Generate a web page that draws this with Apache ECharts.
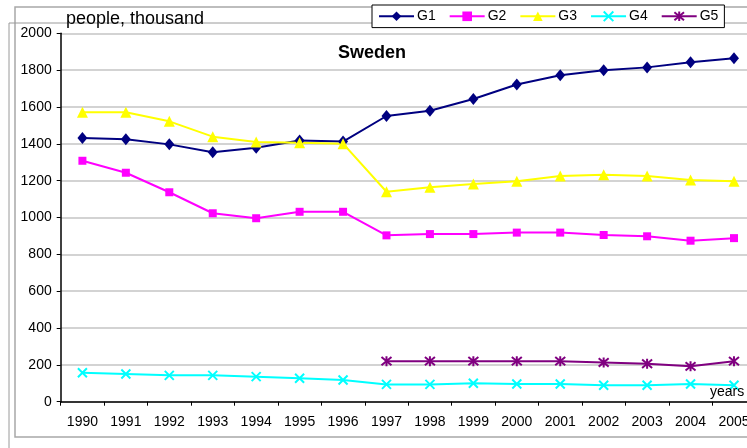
<!DOCTYPE html>
<html>
<head>
<meta charset="utf-8">
<script src="https://cdn.jsdelivr.net/npm/echarts@6/dist/echarts.min.js"></script>
<style>
html,body{margin:0;padding:0;background:#fff;overflow:hidden;}
#chartID{width:760px;height:448px;}
</style>
</head>
<body>
<div id="chartID"></div>
<script>
// Sweden, people thousand, groups G1..G5
var yearArray=["1990","1991","1992","1993","1994","1995","1996","1997","1998","1999","2000","2001","2002","2003","2004","2005"];
var g1Array=[1432,1425,1397,1354,1379,1418,1412,1551,1580,1643,1722,1772,1799,1815,1843,1864];
var g2Array=[1308,1243,1137,1023,996,1031,1031,903,910,910,918,918,905,898,874,888];
var g3Array=[1571,1571,1522,1439,1410,1406,1401,1140,1164,1182,1197,1225,1232,1225,1204,1197];
var g4Array=[157,150,143,143,136,127,118,94,94,100,96,96,89,89,96,89];
var g5Array=[null,null,null,null,null,null,null,220,220,220,220,220,213,206,192,220];
var seriesNameArray=["G1","G2","G3","G4","G5"];
var seriesColorArray=["#000080","#FF00FF","#FFFF00","#00FFFF","#800080"];

var fontName='"Liberation Sans", Arial, sans-serif';
var crossPath='path://M0,0L10,10M10,0L0,10';
var starPath='path://M0,0L10,10M10,0L0,10M5,-1L5,11';

function makeSeries(idx, data, symbol, size, strokeOnly){
	var s={
		name: seriesNameArray[idx],
		type: 'line',
		data: data,
		symbol: symbol,
		symbolSize: size,
		showAllSymbol: true,
		connectNulls: false,
		animation: false,
		lineStyle: { color: seriesColorArray[idx], width: 2 },
		itemStyle: { color: seriesColorArray[idx] }
	};
	if(strokeOnly){
		s.itemStyle={ color: 'none', borderColor: seriesColorArray[idx], borderWidth: 2 };
	}
	return s;
}

// chart div is a bit wider than the window: the plot runs off the right edge
var chart=echarts.init(document.getElementById('chartID'));
var option={
	animation: false,
	textStyle: { fontFamily: fontName },
	graphic: [
		{ type:'rect', shape:{x:15, y:7, width:800, height:430}, style:{fill:'none', stroke:'#a8a8a8', lineWidth:1.5}, z:0 },
		{ type:'rect', shape:{x:9, y:23, width:800, height:500}, style:{fill:'none', stroke:'#9a9a9a', lineWidth:1}, z:0 },
		{ type:'text', left:66, top:10, style:{text:'people, thousand', font:'18px '+fontName, fill:'#000'}, z:100 },
		{ type:'text', left:338, top:44, style:{text:'Sweden', font:'bold 18px '+fontName, fill:'#000'}, z:100 },
		{ type:'text', left:710, top:385, style:{text:'years', font:'14px '+fontName, fill:'#000'}, z:100 }
	],
	legend: {
		left: 372,
		top: 5,
		padding: [4,6,4,6],
		itemWidth: 35,
		itemHeight: 12,
		itemGap: 13,
		borderColor: '#000',
		borderWidth: 1,
		backgroundColor: '#fff',
		textStyle: { fontSize: 14, color: '#000', fontFamily: fontName, padding: [0,0,0,-2] },
		data: seriesNameArray
	},
	grid: { left: 60.7, top: 33.3, right: 4.3, bottom: 46.3, containLabel: false },
	xAxis: {
		type: 'category',
		data: yearArray,
		boundaryGap: true,
		axisLine: { lineStyle: { color: '#000', width: 1.5 } },
		axisTick: { show: true, interval: 0, length: 4, lineStyle: { color: '#000' } },
		axisLabel: { interval: 0, margin: 13, fontSize: 14, color: '#000', fontFamily: fontName }
	},
	yAxis: {
		type: 'value',
		min: 0,
		max: 2000,
		interval: 200,
		axisLine: { show: true, lineStyle: { color: '#000', width: 1.5 } },
		axisTick: { show: true, length: 4, lineStyle: { color: '#000' } },
		axisLabel: { margin: 9, fontSize: 14, color: '#000', fontFamily: fontName, formatter: function(v){ return String(v); } },
		splitLine: { show: true, lineStyle: { color: '#c4c4c4', width: 1.5 } }
	},
	series: [
		makeSeries(0, g1Array, 'diamond', [10,12], false),
		makeSeries(1, g2Array, 'rect', 8, false),
		makeSeries(2, g3Array, 'triangle', 11, false),
		makeSeries(3, g4Array, crossPath, 9, true),
		makeSeries(4, g5Array, starPath, 10, true)
	]
};
chart.setOption(option);
</script>
</body>
</html>
